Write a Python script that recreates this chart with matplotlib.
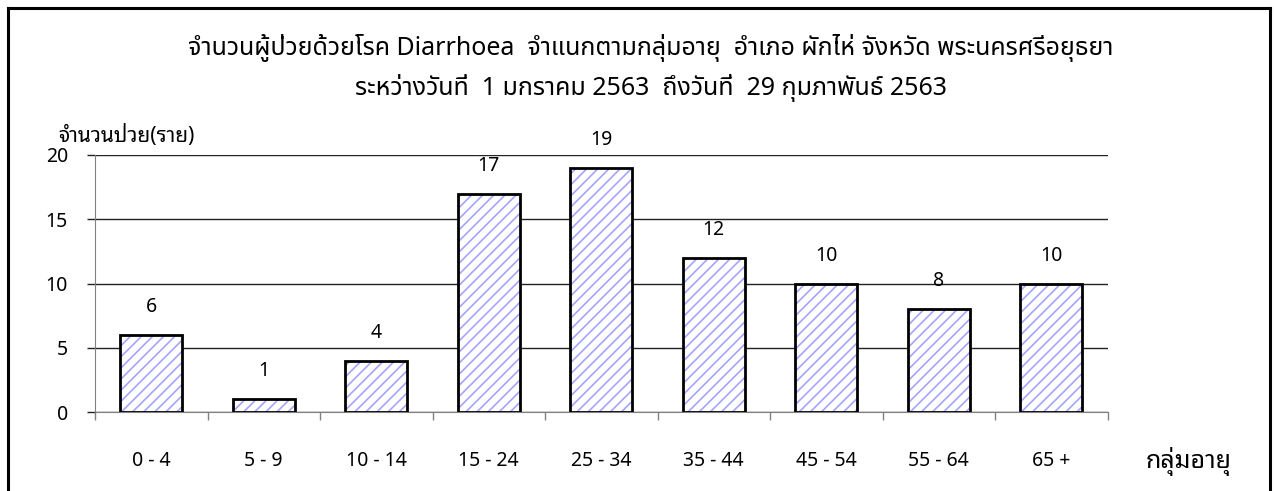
import matplotlib
matplotlib.use('Agg')
import matplotlib.pyplot as plt
from matplotlib.lines import Line2D
import numpy as np

plt.rcParams['font.family'] = ['Noto Sans', 'Noto Sans Thai Looped']
plt.rcParams['hatch.linewidth'] = 1.2

age_groups = ['0 - 4', '5 - 9', '10 - 14', '15 - 24', '25 - 34', '35 - 44', '45 - 54', '55 - 64', '65 +']
cases = [6, 1, 4, 17, 19, 12, 10, 8, 10]
y_ticks = [0, 5, 10, 15, 20]

title_1 = 'จำนวนผู้ป่วยด้วยโรค Diarrhoea  จำแนกตามกลุ่มอายุ  อำเภอ ผักไห่ จังหวัด พระนครศรีอยุธยา'
title_2 = 'ระหว่างวันที่  1 มกราคม 2563  ถึงวันที่  29 กุมภาพันธ์ 2563'
y_title = 'จำนวนป่วย(ราย)'
x_title = 'กลุ่มอายุ'

W, H = 1274, 491
fig = plt.figure(figsize=(W / 100, H / 100), dpi=100)
ax = fig.add_axes([95 / W, 1 - 412 / H, 1012.5 / W, 257 / H])

x = np.arange(len(cases))
# hatch layer then black outline
ax.bar(x, cases, width=0.55, color='white', edgecolor='#a4a4ff', hatch='///', linewidth=0, zorder=3)
ax.bar(x, cases, width=0.55, fill=False, edgecolor='black', linewidth=2, zorder=4)

for xi, v in zip(x, cases):
    ax.annotate(str(v), (xi, v), xytext=(0, 20), textcoords='offset points',
                ha='center', va='center', fontsize=14)

ax.set_xlim(-0.5, len(cases) - 0.5)
ax.set_ylim(0, 20)
ax.set_yticks(y_ticks)
ax.set_yticklabels([str(t) for t in y_ticks], fontsize=14)
ax.tick_params(axis='y', length=6, width=1, color='#222222', pad=13.5)
ax.yaxis.grid(True, color='#222222', linewidth=1)
ax.set_axisbelow(True)

ax.set_xticks(x)
ax.set_xticklabels(age_groups, fontsize=14)
ax.tick_params(axis='x', which='major', length=0, pad=28)
ax.set_xticks(np.arange(len(cases) + 1) - 0.5, minor=True)
ax.tick_params(axis='x', which='minor', length=6, width=1, color='#808080', direction='out')

for s in ['top', 'right']:
    ax.spines[s].set_visible(False)
ax.spines['left'].set_color('#808080')
ax.spines['bottom'].set_color('#808080')

title_font = ['Noto Sans', 'Noto Sans Thai']
fig.text(0.511, 1 - 48 / H, title_1, ha='center', va='center', fontsize=18, family=title_font)
fig.text(0.511, 1 - 88 / H, title_2, ha='center', va='center', fontsize=18, family=title_font)
fig.text(58 / W, 1 - 136 / H, y_title, ha='left', va='center', fontsize=15)
fig.text(1189 / W, 1 - 462 / H, x_title, ha='center', va='center', fontsize=18)

# outer frame
fig.add_artist(Line2D([8 / W, 8 / W], [0, 1 - 8 / H], color='black', linewidth=2.2))
fig.add_artist(Line2D([8 / W, 1270 / W], [1 - 8 / H, 1 - 8 / H], color='black', linewidth=2.2))
fig.add_artist(Line2D([1270 / W, 1270 / W], [0, 1 - 8 / H], color='black', linewidth=2.2))

fig.savefig('out.png', dpi=100)
